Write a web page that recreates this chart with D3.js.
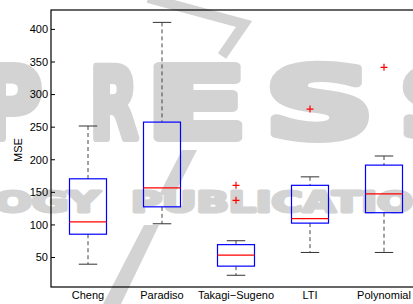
<!DOCTYPE html>
<html>
<head>
<meta charset="utf-8">
<script src="https://cdn.jsdelivr.net/npm/d3@7"></script>
<style>
  body { margin: 0; background: #fff; }
  svg { display: block; }
  .tick-label, .x-label, .axis-label { font-family: "Liberation Sans", Arial, sans-serif; font-size: 11px; fill: #000; }
  .wm { font-family: "DejaVu Sans", sans-serif; font-weight: bold; fill: #d3d3d3; stroke: #d3d3d3; stroke-linejoin: round; }
</style>
</head>
<body>
<svg id="plot"></svg>
<script>
const W = 413, H = 304;
const margin = { top: 10, right: -8, bottom: 17, left: 51 };

// Data
const groups = ["Cheng", "Paradiso", "Takagi\u2212Sugeno", "LTI", "Polynomial"];
const lowerWhisker = [39, 101, 22, 57, 57];
const q1 = [85, 127, 36, 102, 118];
const medians = [104, 156, 53, 109, 147];
const q3 = [170, 257, 69, 160, 191];
const upperWhisker = [251, 410, 75, 173, 205];
const outliers = [[], [], [160, 137], [277], [341]];
const yTicks = [50, 100, 150, 200, 250, 300, 350, 400];

const svg = d3.select("#plot").attr("width", W).attr("height", H);

// Watermark (publisher logo) behind the chart
const wm = svg.append("g");
const press = [["P", -22, 64], ["R", 90, 48], ["E", 146, 101], ["S", 265, 109], ["S", 398, 109]];
press.forEach(([ch, x, w]) => {
  wm.append("text").attr("class", "wm")
    .attr("x", x).attr("y", 138)
    .attr("font-size", 98)
    .attr("stroke-width", 8)
    .attr("textLength", w).attr("lengthAdjust", "spacingAndGlyphs")
    .text(ch);
});
wm.append("text").attr("class", "wm")
  .attr("x", -240).attr("y", 212).attr("font-size", 28)
  .attr("stroke-width", 3)
  .attr("textLength", 340).attr("lengthAdjust", "spacingAndGlyphs")
  .text("TECHNOLOGY");
wm.append("text").attr("class", "wm")
  .attr("x", 131).attr("y", 212).attr("font-size", 28)
  .attr("stroke-width", 3)
  .attr("textLength", 348).attr("lengthAdjust", "spacingAndGlyphs")
  .text("PUBLICATIONS");
wm.append("path")
  .attr("d", "M148,-2L244,24L222,56")
  .attr("fill", "none").attr("stroke", "#d3d3d3").attr("stroke-width", 10);
wm.append("path")
  .attr("d", "M182,150L197,150L174,195L159,195Z")
  .attr("fill", "#d3d3d3");
wm.append("path")
  .attr("d", "M144,225L159,225L121,304L103,304Z")
  .attr("fill", "#d3d3d3");

const x = d3.scaleBand()
  .domain(groups)
  .range([margin.left, W - margin.right]);

const y = d3.scaleLinear()
  .domain([4, 429])
  .range([H - margin.bottom, margin.top]);

const bw = x.bandwidth();
const boxW = bw * 0.5;
const capW = bw * 0.25;

// Axis frame (MATLAB style box)
svg.append("rect")
  .attr("x", margin.left).attr("y", margin.top)
  .attr("width", W - margin.right - margin.left)
  .attr("height", H - margin.bottom - margin.top)
  .attr("fill", "none").attr("stroke", "#000").attr("stroke-width", 1.2);

// Y axis, ticks pointing inward
const yAxis = svg.append("g")
  .attr("transform", `translate(${margin.left},0)`)
  .attr("font-family", null).attr("font-size", null)
  .call(d3.axisRight(y).tickValues(yTicks).tickSize(4).tickFormat(d3.format("d")));
yAxis.attr("font-family", null).attr("font-size", null);
yAxis.select(".domain").remove();
yAxis.selectAll(".tick line").attr("stroke", "#000");
yAxis.selectAll(".tick text")
  .attr("class", "tick-label")
  .attr("x", -3).attr("dy", "0.35em")
  .attr("text-anchor", "end");

// Y label
svg.append("text")
  .attr("class", "axis-label")
  .attr("transform", "rotate(-90)")
  .attr("x", -150).attr("y", 22)
  .attr("text-anchor", "middle")
  .text("MSE");

// X labels
svg.selectAll(".x-label")
  .data(groups)
  .enter().append("text")
  .attr("class", "x-label")
  .attr("x", d => x(d) + bw / 2)
  .attr("y", 299)
  .attr("text-anchor", "middle")
  .text(d => d);

// Boxes
const g = svg.selectAll(".box")
  .data(groups)
  .enter().append("g")
  .attr("class", "box")
  .attr("transform", d => `translate(${x(d) + bw / 2},0)`);

// whiskers (dashed)
g.append("line")
  .attr("x1", 0).attr("x2", 0)
  .attr("y1", (d, i) => y(upperWhisker[i])).attr("y2", (d, i) => y(q3[i]))
  .attr("stroke", "#444").attr("stroke-dasharray", "4,3");
g.append("line")
  .attr("x1", 0).attr("x2", 0)
  .attr("y1", (d, i) => y(q1[i])).attr("y2", (d, i) => y(lowerWhisker[i]))
  .attr("stroke", "#444").attr("stroke-dasharray", "4,3");

// caps
g.append("line")
  .attr("x1", -capW / 2).attr("x2", capW / 2)
  .attr("y1", (d, i) => y(upperWhisker[i])).attr("y2", (d, i) => y(upperWhisker[i]))
  .attr("stroke", "#333");
g.append("line")
  .attr("x1", -capW / 2).attr("x2", capW / 2)
  .attr("y1", (d, i) => y(lowerWhisker[i])).attr("y2", (d, i) => y(lowerWhisker[i]))
  .attr("stroke", "#333");

// box
g.append("rect")
  .attr("x", -boxW / 2).attr("width", boxW)
  .attr("y", (d, i) => y(q3[i]))
  .attr("height", (d, i) => y(q1[i]) - y(q3[i]))
  .attr("fill", "none").attr("stroke", "#0000ff").attr("stroke-width", 1.2);

// median
g.append("line")
  .attr("x1", -boxW / 2).attr("x2", boxW / 2)
  .attr("y1", (d, i) => y(medians[i])).attr("y2", (d, i) => y(medians[i]))
  .attr("stroke", "#ff0000").attr("stroke-width", 1.2);

// outliers as red "+"
groups.forEach((grp, i) => {
  const cx = x(grp) + bw / 2;
  outliers[i].forEach(v => {
    const cy = y(v);
    svg.append("path")
      .attr("d", `M${cx - 3.5},${cy}H${cx + 3.5}M${cx},${cy - 3.5}V${cy + 3.5}`)
      .attr("stroke", "#ff0000").attr("stroke-width", 1.2);
  });
});
</script>
</body>
</html>
